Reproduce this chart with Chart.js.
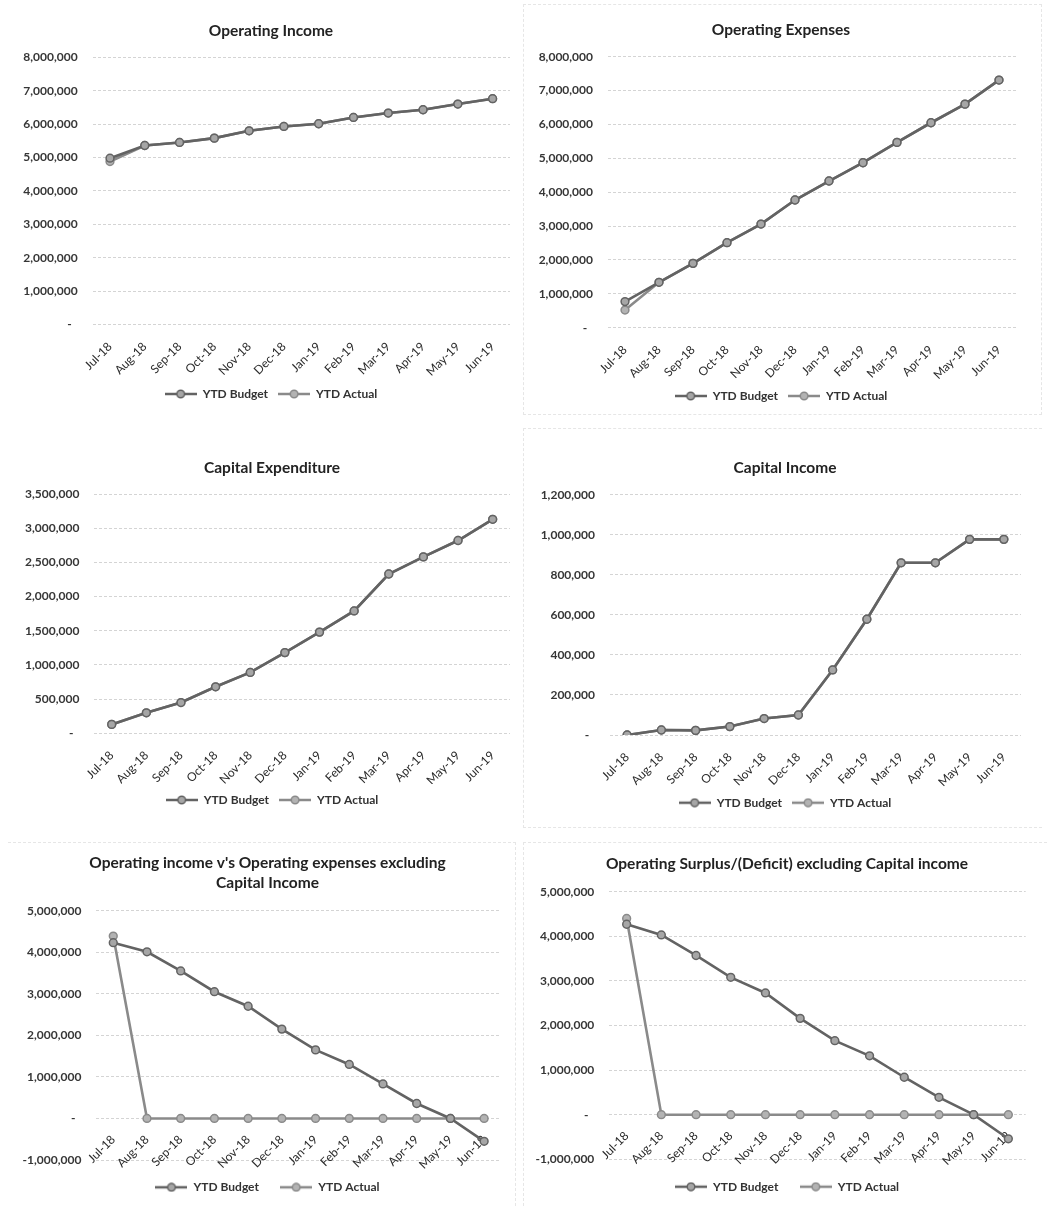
<!DOCTYPE html>
<html>
<head>
<meta charset="utf-8">
<title>YTD Budget vs YTD Actual</title>
<script src="https://cdn.jsdelivr.net/npm/chart.js@4.4.1/dist/chart.umd.min.js"></script>
<style>
  html, body { margin: 0; padding: 0; background: #ffffff; }
  #sheet { position: relative; width: 1047px; height: 1206px; overflow: hidden; background: #ffffff; }
  #sheet canvas { position: absolute; }
  .frame { position: absolute; border: 1px dashed #e6e6e6; box-sizing: border-box; }
</style>
</head>
<body>
<div id="sheet">
  <div class="frame" style="left:523px; top:4px; width:519px; height:411px;"></div>
  <div class="frame" style="left:523px; top:428px; width:519px; height:400px; border-right:none;"></div>
  <div class="frame" style="left:8px; top:842px; width:508px; height:364px; border-bottom:none; border-left:none;"></div>
  <div class="frame" style="left:523px; top:842px; width:524px; height:364px; border-bottom:none; border-right:none;"></div>
</div>
<script>
// Month labels shared by every chart
const months = ['Jul-18', 'Aug-18', 'Sep-18', 'Oct-18', 'Nov-18', 'Dec-18',
                'Jan-19', 'Feb-19', 'Mar-19', 'Apr-19', 'May-19', 'Jun-19'];

// Operating Income
const opIncomeBudget = [4980000, 5360000, 5450000, 5580000, 5800000, 5930000, 6010000, 6200000, 6330000, 6430000, 6600000, 6760000];
const opIncomeActual = [4880000, 5360000, 5450000, 5580000, 5800000, 5930000, 6010000, 6200000, 6330000, 6430000, 6600000, 6760000];

// Operating Expenses
const opExpBudget = [770000, 1340000, 1900000, 2510000, 3060000, 3770000, 4330000, 4870000, 5470000, 6050000, 6600000, 7310000];
const opExpActual = [520000, 1340000, 1900000, 2510000, 3060000, 3770000, 4330000, 4870000, 5470000, 6050000, 6600000, 7310000];

// Capital Expenditure
const capExpBudget = [130000, 300000, 450000, 680000, 890000, 1180000, 1480000, 1790000, 2330000, 2580000, 2820000, 3130000];
const capExpActual = [130000, 300000, 450000, 680000, 890000, 1180000, 1480000, 1790000, 2330000, 2580000, 2820000, 3130000];

// Capital Income
const capIncBudget = [0, 25000, 23000, 42000, 82000, 100000, 325000, 578000, 860000, 860000, 977000, 977000];
const capIncActual = [0, 25000, 23000, 42000, 82000, 100000, 325000, 578000, 860000, 860000, 977000, 977000];

// Operating income v's Operating expenses excluding Capital Income
const netBudget = [4230000, 4010000, 3550000, 3050000, 2700000, 2150000, 1650000, 1300000, 830000, 360000, 0, -550000];
const netActual = [4390000, 0, 0, 0, 0, 0, 0, 0, 0, 0, 0, 0];

// Operating Surplus/(Deficit) excluding Capital income
const surplusBudget = [4270000, 4030000, 3570000, 3080000, 2730000, 2160000, 1660000, 1320000, 840000, 390000, 0, -540000];
const surplusActual = [4400000, 0, 0, 0, 0, 0, 0, 0, 0, 0, 0, 0];

// Series names
const seriesNames = ['YTD Budget', 'YTD Actual'];

// Axis ranges: [min, max, step]
const rangeOpIncome = [0, 8000000, 1000000];
const rangeOpExp = [0, 8000000, 1000000];
const rangeCapExp = [0, 3500000, 500000];
const rangeCapInc = [0, 1200000, 200000];
const rangeNet = [-1000000, 5000000, 1000000];
const rangeSurplus = [-1000000, 5000000, 1000000];

const FONT = 'Lato, "Open Sans", "Liberation Sans", sans-serif';
const lineColors = ['#636363', '#8a8a8a'];
const markerFill = ['#a6a6a6', '#b3b3b3'];

// Small line-with-marker swatches used in the legends
function makeLegendIcon(color, fill) {
  const c = document.createElement('canvas');
  c.width = 32; c.height = 10;
  const g = c.getContext('2d');
  g.strokeStyle = color; g.lineWidth = 2.5;
  g.beginPath(); g.moveTo(0, 5); g.lineTo(32, 5); g.stroke();
  g.beginPath(); g.arc(16, 5, 3.8, 0, Math.PI * 2);
  g.fillStyle = fill; g.fill();
  g.lineWidth = 1.5; g.stroke();
  return c;
}
const legendIcons = [makeLegendIcon(lineColors[0], markerFill[0]), makeLegendIcon(lineColors[1], markerFill[1])];

function yLabel(v) {
  return v === 0 ? '-  ' : Number(v).toLocaleString('en-US');
}

// Each panel: canvas left/top, canvas height, title centre, plot left/right edges (page pixels)
function buildChart(panel) {
  const right = 2 * panel.titleX - panel.left;      // title/legend band is centred on titleX
  const width = Math.ceil(right - panel.left);
  const padRight = width - (right - panel.left);
  const yWidth = panel.plotLeft - panel.left;
  const rightGap = right - panel.plotRight;

  const canvas = document.createElement('canvas');
  canvas.width = width; canvas.height = panel.h;
  canvas.style.left = panel.left + 'px';
  canvas.style.top = panel.top + 'px';
  canvas.style.width = width + 'px';
  canvas.style.height = panel.h + 'px';
  document.getElementById('sheet').appendChild(canvas);

  const [yMin, yMax, yStep] = panel.range;
  const datasets = [panel.budget, panel.actual].map((vals, i) => ({
    label: seriesNames[i],
    data: vals,
    yAxisID: 'y',
    borderColor: lineColors[i],
    backgroundColor: markerFill[i],
    borderWidth: 2.6,
    pointRadius: 3.9,
    pointBorderWidth: 1.5,
    pointBackgroundColor: markerFill[i],
    pointBorderColor: lineColors[i],
    tension: 0,
    fill: false
  }));

  return new Chart(canvas, {
    type: 'line',
    data: { labels: months, datasets },
    options: {
      responsive: false,
      animation: false,
      events: [],
      layout: { padding: { top: 0, left: 0, right: padRight, bottom: panel.pb } },
      scales: {
        x: {
          type: 'category',
          offset: true,
          position: panel.crossAtZero ? { y: 0 } : 'bottom',
          grid: { display: false, drawTicks: false },
          border: { display: false },
          ticks: {
            autoSkip: false, minRotation: 45, maxRotation: 45, padding: panel.xPad,
            color: '#2c2c2c', font: { family: FONT, size: 12 }
          },
          afterFit: (s) => { s.height = panel.xh; }
        },
        y: {
          min: yMin, max: yMax,
          grid: { color: '#d4d4d4', lineWidth: 1, drawTicks: false },
          border: { display: false, dash: [3, 2] },
          ticks: {
            stepSize: yStep, padding: 15, callback: yLabel,
            color: '#363636', font: { family: FONT, size: 12, weight: 'bold' }
          },
          afterFit: (s) => { s.width = yWidth; }
        },
        // empty right-hand axis that only reserves the margin beside the plot
        yGap: {
          type: 'linear', position: 'right', display: true,
          grid: { display: false, drawTicks: false },
          border: { display: false },
          ticks: { display: false },
          afterFit: (s) => { s.width = rightGap; }
        }
      },
      plugins: {
        tooltip: { enabled: false },
        title: {
          display: true, text: panel.title, color: '#222222',
          font: { family: FONT, size: 15.5, weight: 'bold', lineHeight: '20px' },
          padding: { top: panel.tt, bottom: panel.tb }
        },
        legend: {
          display: true, position: 'bottom',
          labels: {
            usePointStyle: true, pointStyleWidth: 32, padding: panel.lp,
            color: '#333333', font: { family: FONT, size: 12, weight: 'bold' },
            generateLabels: (chart) => {
              const items = Chart.defaults.plugins.legend.labels.generateLabels(chart);
              items.forEach((it) => { it.pointStyle = legendIcons[it.datasetIndex]; });
              return items;
            }
          }
        }
      }
    }
  });
}

const panels = [
  { left: 20, top: 0, h: 410, titleX: 271, plotLeft: 92.6, plotRight: 510,
    title: 'Operating Income', budget: opIncomeBudget, actual: opIncomeActual, range: rangeOpIncome,
    pb: 0, xh: 53.5, xPad: 15, tt: 20.7, tb: 16.6, lp: 10 },
  { left: 534, top: 0, h: 415, titleX: 781, plotLeft: 608, plotRight: 1016,
    title: 'Operating Expenses', budget: opExpBudget, actual: opExpActual, range: rangeOpExp,
    pb: 3, xh: 52.3, xPad: 15, tt: 20, tb: 16.7, lp: 10 },
  { left: 20, top: 420, h: 400, titleX: 272, plotLeft: 94.4, plotRight: 510,
    title: 'Capital Expenditure', budget: capExpBudget, actual: capExpActual, range: rangeCapExp,
    pb: 4, xh: 50.7, xPad: 15, tt: 38.3, tb: 15.7, lp: 10 },
  { left: 536, top: 420, h: 400, titleX: 785, plotLeft: 610, plotRight: 1021,
    title: 'Capital Income', budget: capIncBudget, actual: capIncActual, range: rangeCapInc,
    pb: 1.3, xh: 51.7, xPad: 15, tt: 38.3, tb: 16.4, lp: 10 },
  { left: 18, top: 840, h: 366, titleX: 267.5, plotLeft: 96.4, plotRight: 501,
    title: ["Operating income v's Operating expenses excluding", 'Capital Income'],
    budget: netBudget, actual: netActual, range: rangeNet, crossAtZero: true,
    pb: 2.7, xh: 0, xPad: 14, tt: 13.3, tb: 17.4, lp: 21.3 },
  { left: 536, top: 840, h: 366, titleX: 787, plotLeft: 609.3, plotRight: 1025.7,
    title: 'Operating Surplus/(Deficit) excluding Capital income',
    budget: surplusBudget, actual: surplusActual, range: rangeSurplus, crossAtZero: true,
    pb: 3.3, xh: 0, xPad: 14, tt: 14, tb: 17.7, lp: 21.4 }
];

panels.forEach(buildChart);
</script>
</body>
</html>
